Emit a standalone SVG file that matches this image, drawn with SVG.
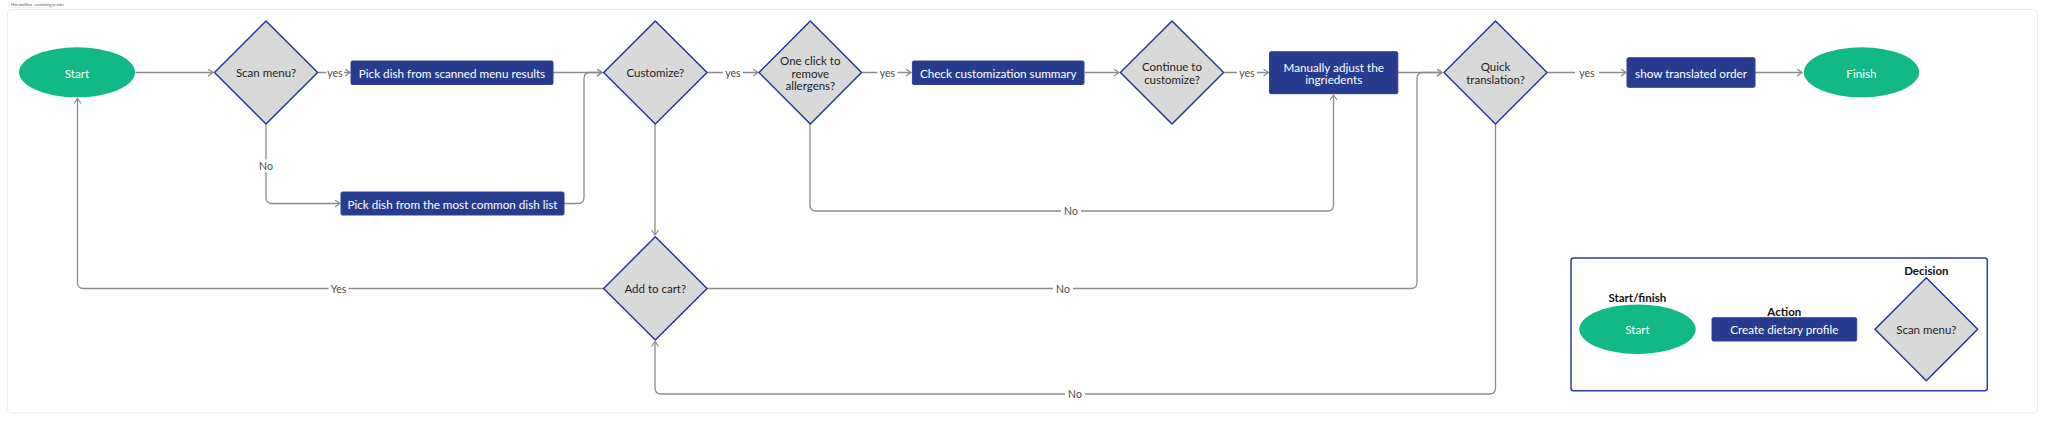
<svg xmlns="http://www.w3.org/2000/svg" width="2048" height="423" viewBox="0 0 2048 423">
<style>
text{font-family:Lato,"Open Sans","Liberation Sans",sans-serif;}
.term{fill:#12b886;}
.act{fill:#283c8f;stroke:#2f3f99;stroke-width:1;}
.dec{fill:#d9d9d9;stroke:#23389a;stroke-width:1.5;stroke-linejoin:round;}
.wt{fill:#ffffff;font-size:11.7px;text-anchor:middle;dominant-baseline:central;}
.dt{fill:#1e1e1e;font-size:11.5px;text-anchor:middle;dominant-baseline:central;}
.lbl{fill:#4a4a4a;font-size:10.5px;text-anchor:middle;dominant-baseline:central;}
.lg{fill:#111;font-size:11.5px;font-weight:bold;text-anchor:middle;dominant-baseline:central;}
.edge{fill:none;stroke:#8c8c8c;stroke-width:1.3;}
.lbg{fill:#ffffff;}
</style>
<defs>
<marker id="ah" markerUnits="userSpaceOnUse" markerWidth="10" markerHeight="10" refX="6" refY="4" orient="auto">
<path d="M1,0.5 L6,4 L1,7.5" fill="none" stroke="#8c8c8c" stroke-width="1.2"/>
</marker>
</defs>
<rect x="0" y="0" width="2048" height="423" fill="#ffffff"/>
<g id="frame">
<rect x="7.5" y="9.5" width="2030" height="403.5" rx="4" fill="#ffffff" stroke="#ececec" stroke-width="1"/>
<rect x="9" y="2" width="44" height="5.5" rx="1" fill="#ffffff" stroke="#e4e4e4" stroke-width="0.5"/>
<text x="11" y="4.9" style="font-size:3.2px;fill:#555;dominant-baseline:central;">Main workflow - customizing an order</text>
</g>
<g id="connectors">
<path class="edge" d="M135.5,72.5 H213" marker-end="url(#ah)"/>
<path class="edge" d="M317.6,72.5 H350" marker-end="url(#ah)"/>
<path class="edge" d="M266,124 V197.5 Q266,203.5 272,203.5 H340" marker-end="url(#ah)"/>
<path class="edge" d="M553,72.5 H602" marker-end="url(#ah)"/>
<path class="edge" d="M564,203.5 H578 Q584,203.5 584,197.5 V78.5 Q584,72.5 590,72.5 H602" marker-end="url(#ah)"/>
<path class="edge" d="M707,72.5 H758" marker-end="url(#ah)"/>
<path class="edge" d="M655,124 V235" marker-end="url(#ah)"/>
<path class="edge" d="M861.5,72.5 H911" marker-end="url(#ah)"/>
<path class="edge" d="M810,124 V205 Q810,211 816,211 H1327.5 Q1333.5,211 1333.5,205 V95" marker-end="url(#ah)"/>
<path class="edge" d="M1085,72.5 H1119" marker-end="url(#ah)"/>
<path class="edge" d="M1223.6,72.5 H1268.5" marker-end="url(#ah)"/>
<path class="edge" d="M1398,72.5 H1442" marker-end="url(#ah)"/>
<path class="edge" d="M707,288.5 H1411 Q1417,288.5 1417,282.5 V78.5 Q1417,72.5 1423,72.5 H1442" marker-end="url(#ah)"/>
<path class="edge" d="M603.6,288.5 H83.5 Q77.5,288.5 77.5,282.5 V98.5" marker-end="url(#ah)"/>
<path class="edge" d="M1547,72.5 H1626" marker-end="url(#ah)"/>
<path class="edge" d="M1495.5,124 V388 Q1495.5,394 1489.5,394 H661 Q655,394 655,388 V341.5" marker-end="url(#ah)"/>
<path class="edge" d="M1755,72.5 H1802" marker-end="url(#ah)"/>
<rect class="lbg" x="326" y="66" width="18" height="13"/><text class="lbl" x="335" y="72.5">yes</text>
<rect class="lbg" x="258" y="159.5" width="16" height="13"/><text class="lbl" x="266" y="166">No</text>
<rect class="lbg" x="723" y="66" width="20" height="13"/><text class="lbl" x="733" y="72.5">yes</text>
<rect class="lbg" x="877.5" y="66" width="20" height="13"/><text class="lbl" x="887.5" y="72.5">yes</text>
<rect class="lbg" x="1061" y="204.5" width="20" height="13"/><text class="lbl" x="1071" y="211">No</text>
<rect class="lbg" x="1237" y="66" width="20" height="13"/><text class="lbl" x="1247" y="72.5">yes</text>
<rect class="lbg" x="1575" y="66" width="24" height="13"/><text class="lbl" x="1587" y="72.5">yes</text>
<rect class="lbg" x="328.5" y="282" width="20" height="13"/><text class="lbl" x="338.5" y="288.5">Yes</text>
<rect class="lbg" x="1053" y="282" width="20" height="13"/><text class="lbl" x="1063" y="288.5">No</text>
<rect class="lbg" x="1065" y="387.5" width="20" height="13"/><text class="lbl" x="1075" y="394">No</text>
</g>
<g id="start"><ellipse class="term" cx="77" cy="72.3" rx="58" ry="25"/><text class="wt" x="77" y="72.5">Start</text></g>
<g id="scan-menu"><polygon class="dec" points="266,21 317.6,72.5 266,124 214.5,72.5"/><text class="dt" x="266" y="72.5">Scan menu?</text></g>
<g id="pick-scanned"><rect class="act" x="351" y="61" width="202" height="23.5" rx="1.5"/><text class="wt" x="452" y="72.8">Pick dish from scanned menu results</text></g>
<g id="pick-common"><rect class="act" x="341" y="192" width="223" height="23" rx="1.5"/><text class="wt" x="452.5" y="203.5">Pick dish from the most common dish list</text></g>
<g id="customize"><polygon class="dec" points="655.3,21 707,72.5 655.3,124 603.6,72.5"/><text class="dt" x="655.3" y="72.5">Customize?</text></g>
<g id="one-click"><polygon class="dec" points="810.3,21 861.5,72.5 810.3,124 759,72.5"/><text class="dt" x="810.3" y="60.7">One click to</text><text class="dt" x="810.3" y="73">remove</text><text class="dt" x="810.3" y="85.3">allergens?</text></g>
<g id="check-summary"><rect class="act" x="912.4" y="61" width="171.6" height="23.5" rx="1.5"/><text class="wt" x="998.2" y="72.8">Check customization summary</text></g>
<g id="continue"><polygon class="dec" points="1172,21 1223.6,72.5 1172,124 1120.4,72.5"/><text class="dt" x="1172" y="66.5">Continue to</text><text class="dt" x="1172" y="79.3">customize?</text></g>
<g id="manual-adjust"><rect class="act" x="1269.5" y="51.7" width="128.3" height="42" rx="1.5"/><text class="wt" x="1333.7" y="66.5">Manually adjust the</text><text class="wt" x="1333.7" y="79.3">ingriedents</text></g>
<g id="quick-translation"><polygon class="dec" points="1495.5,21 1547,72.5 1495.5,124 1444,72.5"/><text class="dt" x="1495.5" y="66.5">Quick</text><text class="dt" x="1495.5" y="79.3">translation?</text></g>
<g id="show-translated"><rect class="act" x="1627" y="57.7" width="128" height="29.6" rx="1.5"/><text class="wt" x="1691" y="72.7">show translated order</text></g>
<g id="finish"><ellipse class="term" cx="1861.5" cy="72.3" rx="57.7" ry="25"/><text class="wt" x="1861.5" y="72.5">Finish</text></g>
<g id="add-to-cart"><polygon class="dec" points="655.3,236.7 707,288.5 655.3,340 603.6,288.5"/><text class="dt" x="655.3" y="288.5">Add to cart?</text></g>
<g id="legend">
<rect x="1571" y="258" width="416.3" height="132.7" rx="2.5" fill="#ffffff" stroke="#2f3f99" stroke-width="1.5"/>
<text class="lg" x="1637.3" y="297.7">Start/finish</text>
<ellipse class="term" cx="1637.5" cy="329.2" rx="58.2" ry="24.8"/><text class="wt" x="1637.5" y="329.3">Start</text>
<text class="lg" x="1784.3" y="311">Action</text>
<rect class="act" x="1712" y="317.7" width="144.7" height="23.3" rx="1.5"/><text class="wt" x="1784.3" y="329.3">Create dietary profile</text>
<text class="lg" x="1926.3" y="270">Decision</text>
<polygon class="dec" points="1926.3,277.7 1977.7,329.2 1926.3,380.7 1875,329.2"/><text class="dt" x="1926.3" y="329.3">Scan menu?</text>
</g>
</svg>
